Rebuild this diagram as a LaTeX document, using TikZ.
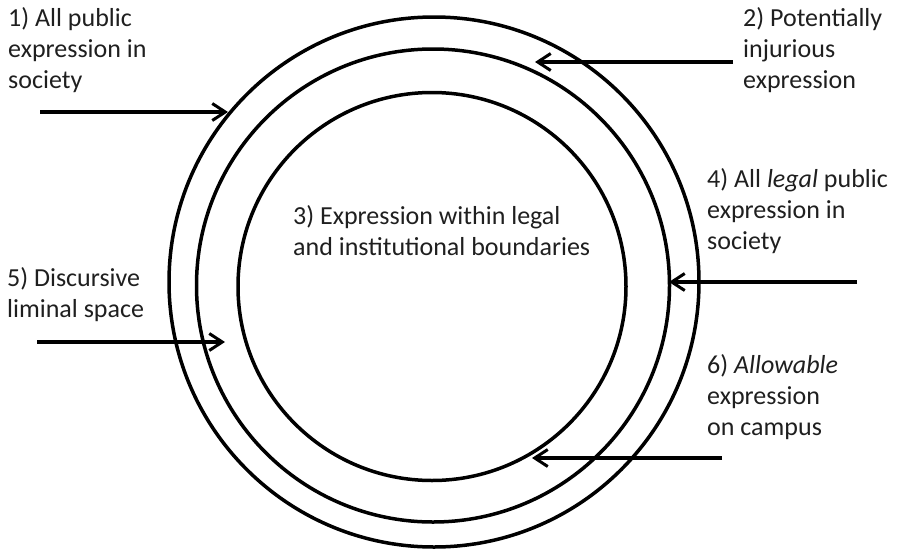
\documentclass[tikz,border=0pt]{standalone}
\usepackage{fontspec}
\setmainfont{Carlito}
\usetikzlibrary{arrows.meta}
\tikzset{
  ring/.style={circle, draw, line width=3.5pt, inner sep=0pt},
  lbl/.style={anchor=base west, align=left, inner sep=0pt, text=black!88,
    font=\fontsize{26}{31}\selectfont},
  pointer/.style={line width=3.5pt, -{Straight Barb[length=13pt,width=17pt,line width=3pt]}}
}
\begin{document}
\begin{tikzpicture}[x=1pt,y=-1pt]
\useasboundingbox (0,0) rectangle (900,552);
\node[ring, minimum size=530pt] (outer) at (434,282) {};
\node[ring, minimum size=473pt] (middle) at (433,285.5) {};
\node[ring, minimum size=388pt] (inner) at (432,286.5) {};

% base anchor = baseline of the last line
\node[lbl] (l1) at (8,88) {1) All public\\expression in\\society};
\node[lbl] (l2) at (743,88) {2) Potentially\\injurious\\expression};
\node[lbl] (l3) at (293,255) {3) Expression within legal\\and institutional boundaries};
\node[lbl] (l4) at (707,249) {4) All \textit{legal} public\\expression in\\society};
\node[lbl] (l5) at (7,317) {5) Discursive\\liminal space};
\node[lbl] (l6) at (707,435) {6) \textit{Allowable}\\expression\\on campus};

\coordinate (a1s) at (40,112);  \coordinate (a1e) at (228,112);
\coordinate (a2s) at (733,62);  \coordinate (a2e) at (535,62);
\coordinate (a4s) at (857,282); \coordinate (a4e) at (669,282);
\coordinate (a5s) at (37,342);  \coordinate (a5e) at (225,342);
\coordinate (a6s) at (722,458); \coordinate (a6e) at (532,458);

\draw[pointer] (a1s) -- (a1e);
\draw[pointer] (a2s) -- (a2e);
\draw[pointer] (a4s) -- (a4e);
\draw[pointer] (a5s) -- (a5e);
\draw[pointer] (a6s) -- (a6e);
\end{tikzpicture}
\end{document}
